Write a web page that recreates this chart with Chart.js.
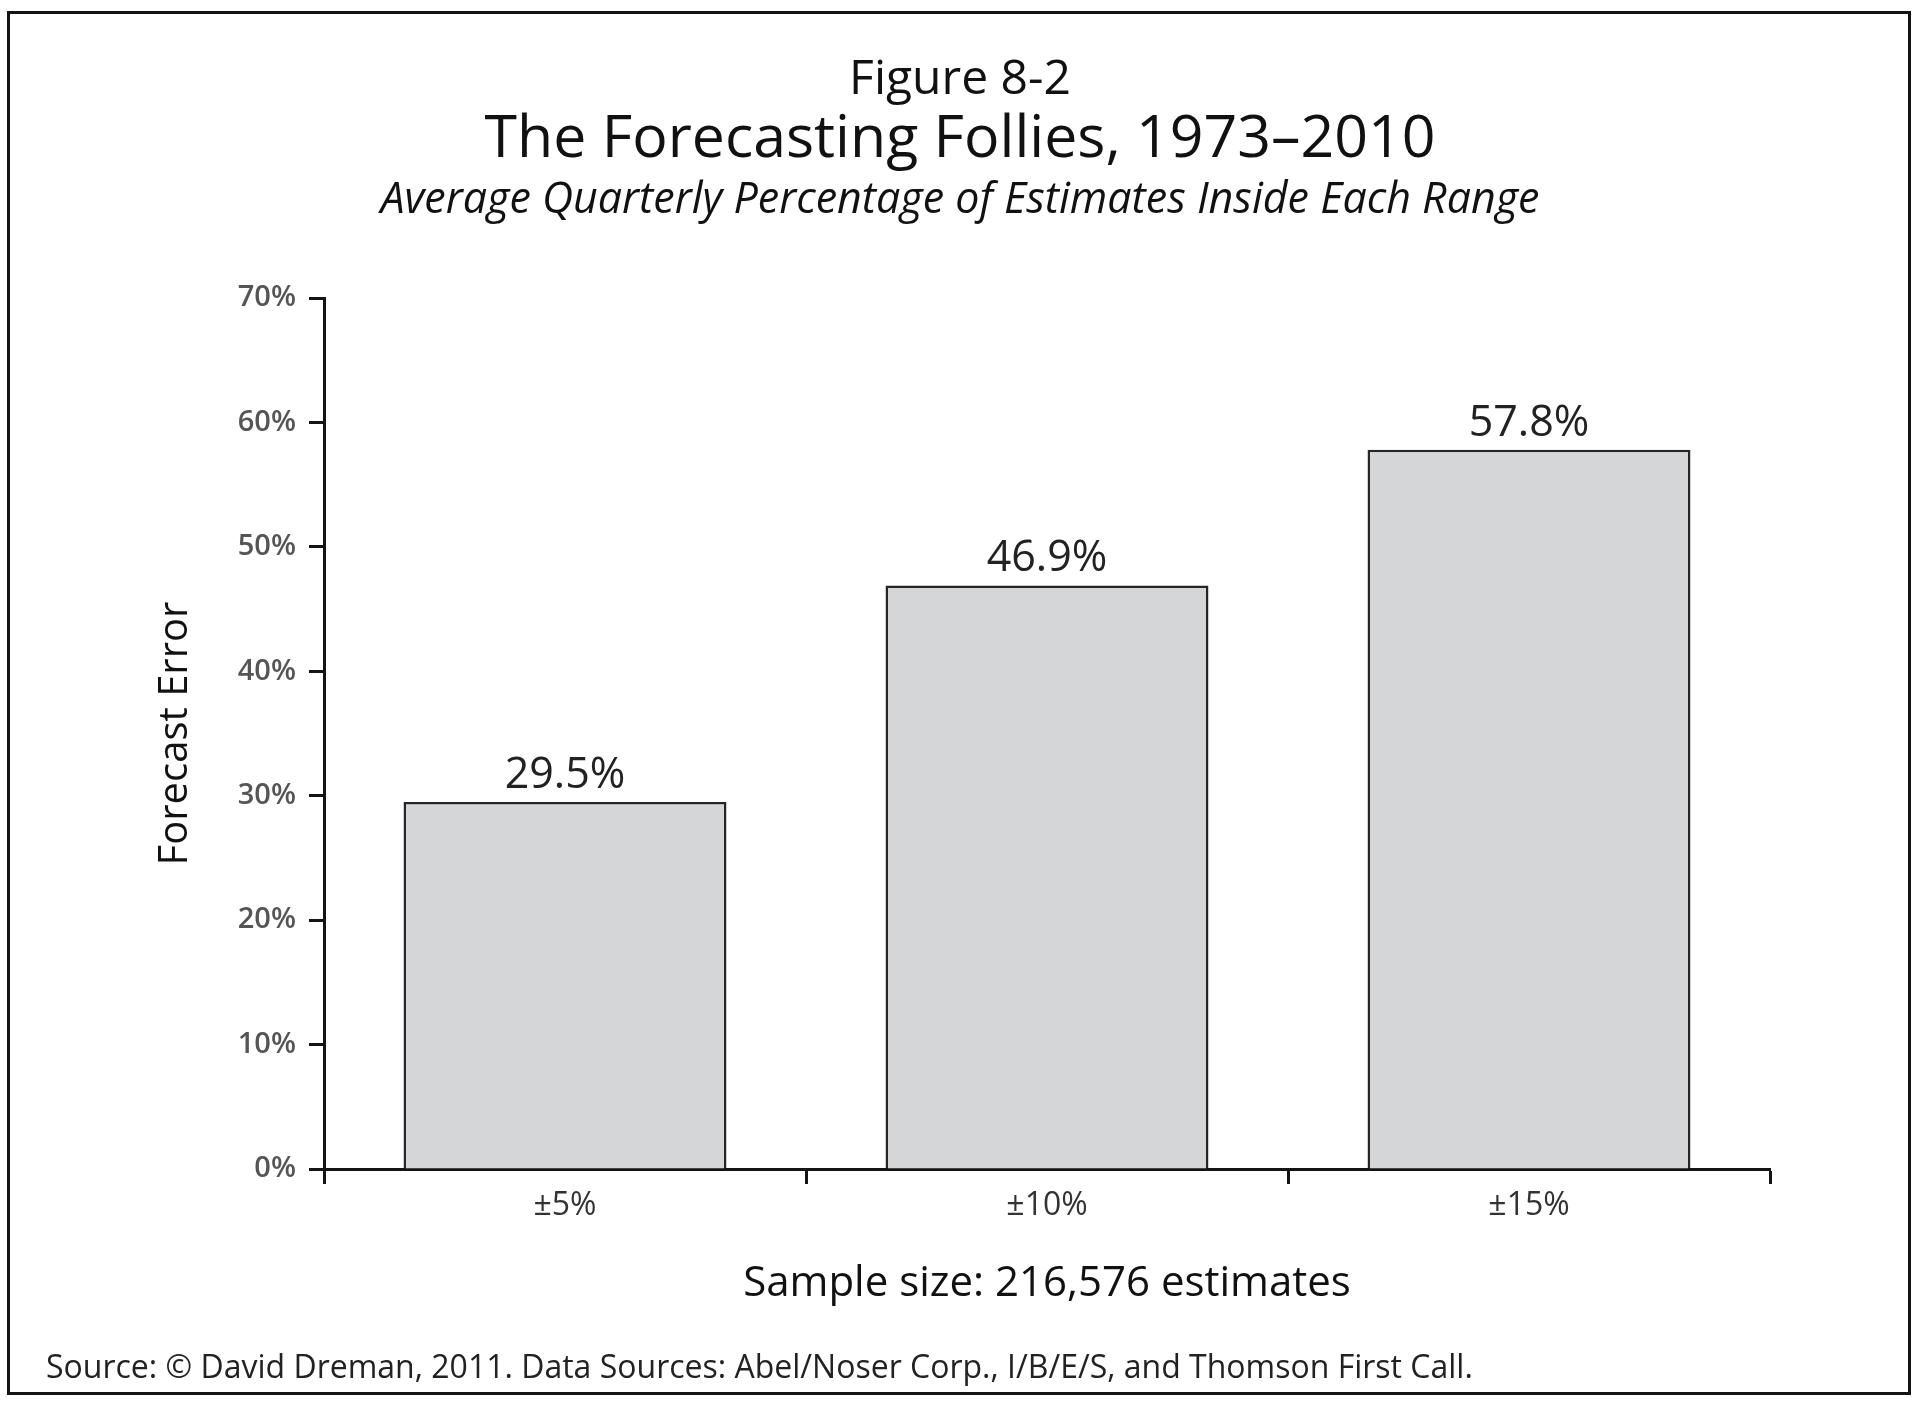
<!DOCTYPE html>
<html lang="en">
<head>
<meta charset="UTF-8">
<title>Figure 8-2 The Forecasting Follies</title>
<style>
  html, body { margin: 0; padding: 0; background: #fff; overflow: hidden; }
  #wrap { width: 1920px; height: 1402px; }
</style>
</head>
<body>
<div id="wrap">
  <canvas id="follies" width="1920" height="1402" role="img" aria-label="The Forecasting Follies, 1973-2010"></canvas>
</div>
<script src="https://cdn.jsdelivr.net/npm/chart.js"></script>
<script>
// values
const ranges = ['±5%', '±10%', '±15%'];
const pctInside = [29.5, 46.9, 57.8];
const yMax = 70;
const yStep = 10;

const figureNo = 'Figure 8-2';
const titleText = 'The Forecasting Follies, 1973–2010';
const subtitleText = 'Average Quarterly Percentage of Estimates Inside Each Range';
const yTitle = 'Forecast Error';
const xTitle = 'Sample size: 216,576 estimates';
const sourceText = 'Source: © David Dreman, 2011. Data Sources: Abel/Noser Corp., I/B/E/S, and Thomson First Call.';

const FONT = '"Open Sans", "Noto Sans", sans-serif';
const INK = '#141414';

// white page, box around the figure, headings and source line
const framePlugin = {
  id: 'frame',
  beforeDraw(chart) {
    const ctx = chart.ctx;
    ctx.save();
    ctx.fillStyle = '#fff';
    ctx.fillRect(0, 0, chart.width, chart.height);
    ctx.strokeStyle = INK;
    ctx.lineWidth = 3;
    ctx.strokeRect(8.5, 12.5, 1901, 1381);
    ctx.restore();
  },
  afterDraw(chart) {
    const ctx = chart.ctx;
    ctx.save();
    ctx.fillStyle = '#111';
    ctx.textAlign = 'center';
    ctx.textBaseline = 'alphabetic';
    ctx.font = '48px ' + FONT;
    ctx.fillText(figureNo, 960, 94);
    ctx.font = '59px ' + FONT;
    ctx.fillText(titleText, 960, 157);
    ctx.font = 'italic 43px ' + FONT;
    ctx.fillText(subtitleText, 960, 213);
    ctx.textAlign = 'left';
    ctx.fillStyle = '#222';
    ctx.font = '32px ' + FONT;
    ctx.fillText(sourceText, 46, 1378);
    ctx.restore();
  }
};

// value above each bar
const valueLabels = {
  id: 'valueLabels',
  afterDatasetsDraw(chart) {
    const ctx = chart.ctx;
    const meta = chart.getDatasetMeta(0);
    ctx.save();
    ctx.font = '43px ' + FONT;
    ctx.fillStyle = '#222';
    ctx.textAlign = 'center';
    ctx.textBaseline = 'alphabetic';
    meta.data.forEach((bar, i) => {
      ctx.fillText(pctInside[i].toFixed(1) + '%', bar.x, bar.y - 14);
    });
    ctx.restore();
  }
};

function draw() {
  new Chart(document.getElementById('follies'), {
    type: 'bar',
    data: {
      labels: ranges,
      datasets: [{
        data: pctInside,
        backgroundColor: '#d5d6d8',
        borderColor: '#262626',
        borderWidth: 2.5,
        categoryPercentage: 1,
        barPercentage: 0.67
      }]
    },
    options: {
      responsive: false,
      devicePixelRatio: 1,
      animation: false,
      layout: { padding: { top: 298, right: 150, bottom: 0, left: 0 } },
      plugins: {
        legend: { display: false },
        tooltip: { enabled: false }
      },
      scales: {
        x: {
          afterFit(s) { s.height = 233; },
          grid: { drawOnChartArea: false, offset: true, tickLength: 15, tickColor: INK, tickWidth: 3 },
          border: { color: INK, width: 3 },
          ticks: { color: '#333', font: { family: FONT, size: 32 }, padding: 3 },
          title: {
            display: true, text: xTitle, color: '#111',
            font: { family: FONT, size: 42 },
            padding: { top: 0, bottom: 93 }
          }
        },
        y: {
          min: 0,
          max: yMax,
          afterFit(s) { s.width = 324; },
          grid: { drawOnChartArea: false, tickLength: 15, tickColor: INK, tickWidth: 3 },
          border: { color: INK, width: 3 },
          ticks: {
            stepSize: yStep,
            color: '#555',
            font: { family: FONT, size: 29, weight: '600' },
            padding: 13,
            callback: v => v + '%'
          },
          title: {
            display: true, text: yTitle, color: '#111',
            font: { family: FONT, size: 40 },
            padding: { top: 152, bottom: 0 }
          }
        }
      }
    },
    plugins: [framePlugin, valueLabels]
  });
}

Promise.all([
  document.fonts.load('40px "Open Sans"'),
  document.fonts.load('600 28px "Open Sans"'),
  document.fonts.load('italic 40px "Open Sans"')
]).then(draw, draw);
</script>
</body>
</html>
